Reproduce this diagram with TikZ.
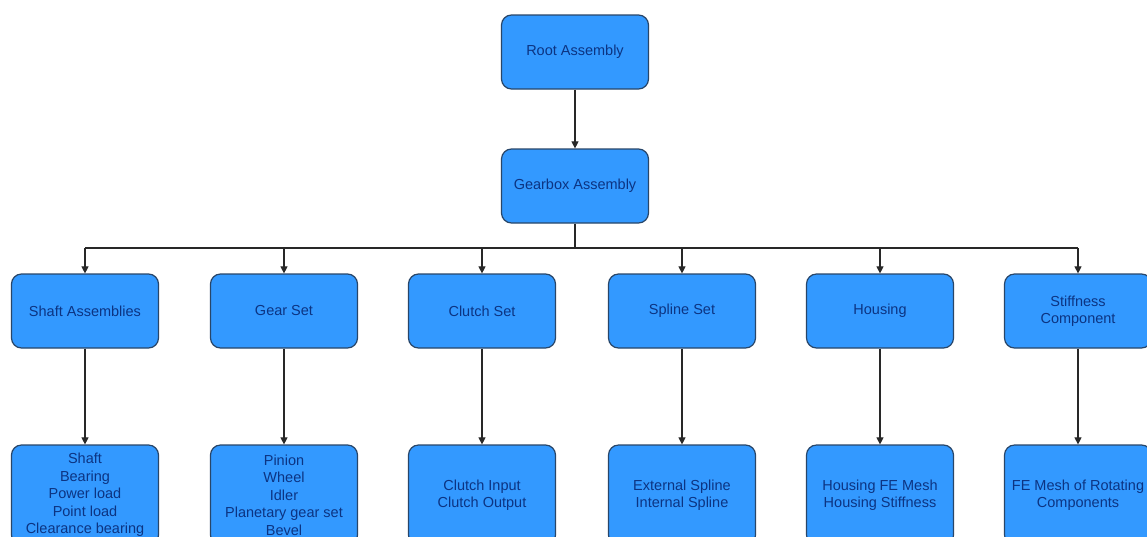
\documentclass[tikz,border=0pt]{standalone}
\usepackage{fontspec}
\setmainfont{Liberation Sans}
\usetikzlibrary{arrows.meta}
\definecolor{boxfill}{RGB}{51,153,255}
\definecolor{boxline}{RGB}{40,70,105}
\definecolor{txt}{RGB}{12,52,130}
\definecolor{wire}{RGB}{40,40,40}
\begin{document}
\begin{tikzpicture}[x=1pt,y=-1pt,
  blk/.style={draw=boxline, fill=boxfill, rounded corners=10pt, line width=1.2pt,
    minimum width=147pt, minimum height=74pt, inner sep=0pt, align=center,
    text=txt, font=\fontsize{14.5}{17.5}\selectfont},
  tall/.style={blk, minimum height=100pt},
  wireline/.style={draw=wire, line width=1.1pt},
  conn/.style={wireline, -{Triangle[length=7pt,width=7pt]}}]
\useasboundingbox[clip] (0,0) rectangle (1147,536);
\fill[white] (0,0) rectangle (1147,536);

\node[blk] (root) at (575,52) {Root Assembly};
\node[blk] (gear) at (575,186) {Gearbox Assembly};

\node[blk] (sa) at (85,311) {Shaft Assemblies};
\node[blk] (gs) at (284,311) {Gear Set};
\node[blk] (cs) at (482,311) {Clutch Set};
\node[blk] (ss) at (682,311) {Spline Set};
\node[blk] (hs) at (880,311) {Housing};
\node[blk] (sc) at (1078,311) {Stiffness\\Component};

\node[tall] (sa2) at (85,495) {Shaft\\Bearing\\Power load\\Point load\\Clearance bearing};
\node[tall] (gs2) at (284,495) {Pinion\\Wheel\\Idler\\Planetary gear set\\Bevel};
\node[tall] (cs2) at (482,495) {Clutch Input\\Clutch Output};
\node[tall] (ss2) at (682,495) {External Spline\\Internal Spline};
\node[tall] (hs2) at (880,495) {Housing FE Mesh\\Housing Stiffness};
\node[tall] (sc2) at (1078,495) {FE Mesh of Rotating\\Components};

\coordinate (j) at (575,248);
\coordinate (jl) at (85,248);
\coordinate (jr) at (1078,248);

\draw[conn] (root) -- (gear);
\draw[wireline] (gear.south) -- (j);
\draw[wireline] (jl) -- (jr);
\foreach \n in {sa,gs,cs,ss,hs,sc}{
  \draw[conn] (\n.north |- j) -- (\n.north);
  \draw[conn] (\n.south) -- (\n2.north);
}
\end{tikzpicture}
\end{document}
